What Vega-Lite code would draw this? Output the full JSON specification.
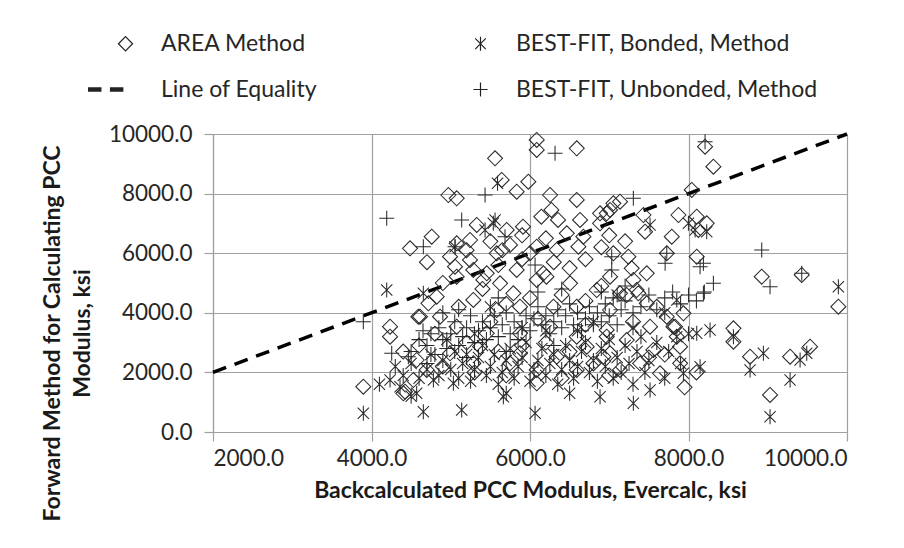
{
  "$schema": "https://vega.github.io/schema/vega-lite/v6.json",
  "autosize": {"type": "none"},
  "width": 634,
  "height": 298,
  "padding": {"left": 213, "top": 134, "right": 57, "bottom": 116},
  "background": "white",
  "config": {
    "font": "Lato",
    "view": {"stroke": null},
    "axis": {
      "gridColor": "#a0a0a0", "gridWidth": 1.2, "domainColor": "#a0a0a0", "domainWidth": 1.2,
      "tickColor": "#a0a0a0", "tickWidth": 1.2, "tickSize": 9,
      "labelFontSize": 22.5, "labelColor": "#262626", "labelFont": "Lato",
      "titleFontSize": 23, "titleFontWeight": "bold", "titleColor": "#1a1a1a", "titleFont": "Lato"
    },
    "legend": {
      "symbolSize": 200, "symbolStrokeColor": "#222", "symbolStrokeWidth": 1.2, "symbolFillColor": "transparent",
      "labelFontSize": 23, "labelColor": "#262626", "labelOffset": 24, "labelLimit": 400,
      "rowPadding": 22, "columnPadding": 152, "padding": 0
    }
  },
  "datasets": {
    "pts": [
      {"m":"a","x":6085,"y":9800},{"m":"a","x":6085,"y":9464},{"m":"a","x":6590,"y":9520},{"m":"a","x":5559,"y":9185},{"m":"a","x":5643,"y":8457},{"m":"a","x":5979,"y":8400},{"m":"a","x":5832,"y":8064},{"m":"a","x":4970,"y":7953},{"m":"a","x":5075,"y":7841},{"m":"a","x":6253,"y":7953},{"m":"a","x":6590,"y":7786},{"m":"a","x":4486,"y":6163},{"m":"a","x":4760,"y":6555},{"m":"a","x":4991,"y":5884},{"m":"a","x":5328,"y":6947},{"m":"a","x":5243,"y":6443},{"m":"a","x":5912,"y":6891},{"m":"a","x":6143,"y":7226},{"m":"a","x":6270,"y":7450},{"m":"a","x":6354,"y":7115},{"m":"a","x":6632,"y":7115},{"m":"a","x":6464,"y":6667},{"m":"a","x":6674,"y":6555},{"m":"a","x":6884,"y":7339},{"m":"a","x":7010,"y":7450},{"m":"a","x":7052,"y":7675},{"m":"a","x":6884,"y":7004},{"m":"a","x":6611,"y":6219},{"m":"a","x":6337,"y":6108},{"m":"a","x":6085,"y":6219},{"m":"a","x":5748,"y":6276},{"m":"a","x":5580,"y":5997},{"m":"a","x":5243,"y":5772},{"m":"a","x":5054,"y":5548},{"m":"a","x":5285,"y":5437},{"m":"a","x":5454,"y":5325},{"m":"a","x":5832,"y":5437},{"m":"a","x":6169,"y":5325},{"m":"a","x":5706,"y":6779},{"m":"a","x":5075,"y":6332},
      {"m":"a","x":8209,"y":9575},{"m":"a","x":8314,"y":8904},{"m":"a","x":8041,"y":8121},{"m":"a","x":7136,"y":7730},{"m":"a","x":6968,"y":7339},{"m":"a","x":7431,"y":7282},{"m":"a","x":7452,"y":6722},{"m":"a","x":7873,"y":7282},{"m":"a","x":7789,"y":6555},{"m":"a","x":8104,"y":7226},{"m":"a","x":8230,"y":7004},{"m":"a","x":8125,"y":6779},{"m":"a","x":7726,"y":5997},{"m":"a","x":8104,"y":5884},{"m":"a","x":7052,"y":5997},{"m":"a","x":7241,"y":5884},{"m":"a","x":7283,"y":5493},{"m":"a","x":7473,"y":5325},{"m":"a","x":8924,"y":5213},{"m":"a","x":9429,"y":5269},{"m":"a","x":9891,"y":4205},
      {"m":"a","x":6842,"y":4765},{"m":"a","x":7220,"y":4598},{"m":"a","x":7367,"y":4654},{"m":"a","x":8567,"y":3480},{"m":"a","x":8567,"y":3030},{"m":"a","x":8777,"y":2527},{"m":"a","x":9282,"y":2527},{"m":"a","x":9534,"y":2863},{"m":"a","x":9029,"y":1242},{"m":"a","x":7346,"y":4765},{"m":"a","x":7136,"y":4654},{"m":"a","x":7473,"y":4319},{"m":"a","x":7726,"y":3870},{"m":"a","x":7810,"y":3534},{"m":"a","x":7557,"y":2752},{"m":"a","x":7389,"y":2305},{"m":"a","x":7136,"y":2081},{"m":"a","x":7641,"y":1970},{"m":"a","x":7894,"y":2305},{"m":"a","x":7852,"y":3198},{"m":"a","x":6968,"y":3423},{"m":"a","x":7220,"y":3087},{"m":"a","x":7010,"y":2641},{"m":"a","x":7304,"y":5101},{"m":"a","x":7010,"y":5213},{"m":"a","x":7515,"y":3534},{"m":"a","x":7936,"y":3982},
      {"m":"a","x":4234,"y":3534},{"m":"a","x":4234,"y":3198},{"m":"a","x":4402,"y":1299},{"m":"a","x":4591,"y":3870},{"m":"a","x":4718,"y":4319},{"m":"a","x":4823,"y":4541},{"m":"a","x":5075,"y":5213},{"m":"a","x":5412,"y":5101},{"m":"a","x":5622,"y":4990},{"m":"a","x":5790,"y":4654},{"m":"a","x":6208,"y":5213},{"m":"a","x":6085,"y":5101},{"m":"a","x":6505,"y":4990},{"m":"a","x":4570,"y":2416},{"m":"a","x":4528,"y":1745},{"m":"a","x":4697,"y":2081},{"m":"a","x":4991,"y":2641},{"m":"a","x":5370,"y":2863},{"m":"a","x":5285,"y":2305},{"m":"a","x":5748,"y":2305},{"m":"a","x":5874,"y":2641},{"m":"a","x":6085,"y":2081},{"m":"a","x":6337,"y":2527},{"m":"a","x":6590,"y":2081},{"m":"a","x":6716,"y":2863},{"m":"a","x":6926,"y":2527},{"m":"a","x":6968,"y":3198},{"m":"a","x":6590,"y":3198},{"m":"a","x":6253,"y":3534},{"m":"a","x":5874,"y":3312},{"m":"a","x":5454,"y":3312},{"m":"a","x":5075,"y":3534},{"m":"a","x":4865,"y":3870},{"m":"a","x":7010,"y":4094},{"m":"a","x":6590,"y":4205},{"m":"a","x":6296,"y":4205},{"m":"a","x":5874,"y":4205},{"m":"a","x":5285,"y":4430},{"m":"a","x":5580,"y":4094},
      {"m":"a","x":3897,"y":1520},{"m":"a","x":4423,"y":1353},{"m":"a","x":4612,"y":3870},{"m":"a","x":6085,"y":1633},{"m":"a","x":7831,"y":3534},{"m":"a","x":7894,"y":2863},
      {"m":"a","x":5200,"y":6100},{"m":"a","x":5500,"y":6400},{"m":"a","x":5650,"y":6100},{"m":"a","x":5900,"y":5800},{"m":"a","x":6000,"y":6000},{"m":"a","x":6300,"y":5700},{"m":"a","x":6500,"y":5500},{"m":"a","x":6700,"y":5800},{"m":"a","x":6900,"y":6200},{"m":"a","x":7200,"y":6400},{"m":"a","x":7000,"y":6600},{"m":"a","x":6200,"y":6500},{"m":"a","x":5900,"y":6600},{"m":"a","x":5600,"y":5600},{"m":"a","x":5400,"y":4800},{"m":"a","x":5700,"y":4300},{"m":"a","x":6000,"y":4500},{"m":"a","x":6400,"y":4600},{"m":"a","x":6700,"y":4400},{"m":"a","x":6900,"y":4900},{"m":"a","x":4700,"y":5700},{"m":"a","x":4900,"y":5000},{"m":"a","x":5100,"y":4200},{"m":"a","x":4800,"y":3300},{"m":"a","x":5200,"y":3000},{"m":"a","x":5600,"y":2700},{"m":"a","x":5900,"y":2900},{"m":"a","x":6200,"y":3000},{"m":"a","x":6500,"y":2700},{"m":"a","x":6800,"y":2300},{"m":"a","x":7000,"y":1900},{"m":"a","x":6400,"y":1800},{"m":"a","x":5700,"y":1900},{"m":"a","x":5300,"y":2000},{"m":"a","x":4900,"y":2200},{"m":"a","x":4600,"y":2900},{"m":"a","x":4400,"y":2700},{"m":"a","x":5500,"y":3700},{"m":"a","x":6100,"y":3800},{"m":"a","x":6700,"y":3600},{"m":"a","x":7300,"y":3700},{"m":"a","x":7600,"y":4200},{"m":"a","x":7500,"y":2500},{"m":"a","x":7700,"y":2600},{"m":"a","x":8100,"y":2000},{"m":"a","x":7950,"y":1500},
      {"m":"b","x":3897,"y":627},{"m":"b","x":4234,"y":1745},{"m":"b","x":4360,"y":1520},{"m":"b","x":4654,"y":683},{"m":"b","x":5138,"y":738},{"m":"b","x":5664,"y":1185},{"m":"b","x":6064,"y":627},{"m":"b","x":4570,"y":1299},{"m":"b","x":4781,"y":1745},{"m":"b","x":5033,"y":1633},{"m":"b","x":4192,"y":4765},{"m":"b","x":4654,"y":4654},{"m":"b","x":5054,"y":6219},{"m":"b","x":5537,"y":7004},{"m":"b","x":5590,"y":8350},{"m":"b","x":5559,"y":7115},{"m":"b","x":5433,"y":6779},{"m":"b","x":7515,"y":6947},{"m":"b","x":7999,"y":7004},{"m":"b","x":8230,"y":6722},{"m":"b","x":8083,"y":6779},{"m":"b","x":9891,"y":4877},{"m":"b","x":8104,"y":3312},{"m":"b","x":8272,"y":3423},{"m":"b","x":8567,"y":3198},{"m":"b","x":8945,"y":2641},{"m":"b","x":8777,"y":2081},{"m":"b","x":9492,"y":2641},{"m":"b","x":9282,"y":1745},{"m":"b","x":9408,"y":2416},{"m":"b","x":9029,"y":514},{"m":"b","x":8146,"y":2191},{"m":"b","x":7304,"y":963},{"m":"b","x":7515,"y":1409},{"m":"b","x":7852,"y":3198},{"m":"b","x":7852,"y":4430},{"m":"b","x":7936,"y":1970},{"m":"b","x":6884,"y":1185},
      {"m":"b","x":4400,"y":1900},{"m":"b","x":4500,"y":2300},{"m":"b","x":4600,"y":1800},{"m":"b","x":4700,"y":2100},{"m":"b","x":4750,"y":2600},{"m":"b","x":4850,"y":1900},{"m":"b","x":4900,"y":2400},{"m":"b","x":5000,"y":2100},{"m":"b","x":5050,"y":2700},{"m":"b","x":5100,"y":1800},{"m":"b","x":5150,"y":2300},{"m":"b","x":5200,"y":2600},{"m":"b","x":5250,"y":1700},{"m":"b","x":5300,"y":2100},{"m":"b","x":5350,"y":2500},{"m":"b","x":5400,"y":2900},{"m":"b","x":5450,"y":1900},{"m":"b","x":5500,"y":2200},{"m":"b","x":5550,"y":2600},{"m":"b","x":5600,"y":1600},{"m":"b","x":5650,"y":2000},{"m":"b","x":5700,"y":2400},{"m":"b","x":5750,"y":2800},{"m":"b","x":5800,"y":1800},{"m":"b","x":5850,"y":2200},{"m":"b","x":5900,"y":2500},{"m":"b","x":5950,"y":3000},{"m":"b","x":6000,"y":1700},{"m":"b","x":6050,"y":2100},{"m":"b","x":6100,"y":2400},{"m":"b","x":6150,"y":2800},{"m":"b","x":6200,"y":1900},{"m":"b","x":6250,"y":2300},{"m":"b","x":6300,"y":2600},{"m":"b","x":6350,"y":1600},{"m":"b","x":6400,"y":2100},{"m":"b","x":6450,"y":2900},{"m":"b","x":6500,"y":2400},{"m":"b","x":6550,"y":1800},{"m":"b","x":6600,"y":2200},{"m":"b","x":6650,"y":2700},{"m":"b","x":6700,"y":3000},{"m":"b","x":6750,"y":2000},{"m":"b","x":6800,"y":2400},{"m":"b","x":6850,"y":1700},{"m":"b","x":6900,"y":2800},{"m":"b","x":6950,"y":2200},{"m":"b","x":7000,"y":3100},{"m":"b","x":7050,"y":1800},{"m":"b","x":7100,"y":2500},{"m":"b","x":7150,"y":2000},{"m":"b","x":7200,"y":2900},{"m":"b","x":7250,"y":2300},{"m":"b","x":7300,"y":1600},{"m":"b","x":7350,"y":2700},{"m":"b","x":7400,"y":3200},{"m":"b","x":7450,"y":2000},{"m":"b","x":7500,"y":2400},{"m":"b","x":7600,"y":3000},{"m":"b","x":7700,"y":1800},{"m":"b","x":7750,"y":2700},{"m":"b","x":7900,"y":2300},{"m":"b","x":8000,"y":3300},{"m":"b","x":6800,"y":3700},{"m":"b","x":7700,"y":4000},{"m":"b","x":6200,"y":3400},{"m":"b","x":5900,"y":3500},{"m":"b","x":5300,"y":3300},{"m":"b","x":4950,"y":3100},{"m":"b","x":5500,"y":4200},{"m":"b","x":6600,"y":3400},{"m":"b","x":7300,"y":3500},{"m":"b","x":7100,"y":4600},{"m":"b","x":6500,"y":1300},{"m":"b","x":5700,"y":1300},{"m":"b","x":4300,"y":2200},{"m":"b","x":4100,"y":1600},{"m":"b","x":4500,"y":1200},
      {"m":"d","x":4192,"y":7170},{"m":"d","x":6316,"y":9352},{"m":"d","x":5433,"y":7953},{"m":"d","x":4654,"y":6219},{"m":"d","x":5054,"y":6219},{"m":"d","x":5138,"y":7115},{"m":"d","x":5685,"y":6555},{"m":"d","x":6064,"y":5605},{"m":"d","x":7031,"y":5884},{"m":"d","x":7031,"y":5437},{"m":"d","x":8209,"y":9743},{"m":"d","x":7304,"y":7841},{"m":"d","x":8924,"y":6108},{"m":"d","x":7726,"y":5997},{"m":"d","x":7705,"y":5661},{"m":"d","x":8146,"y":5548},{"m":"d","x":9429,"y":5325},{"m":"d","x":9029,"y":4877},{"m":"d","x":8314,"y":4990},{"m":"d","x":8188,"y":4654},{"m":"d","x":8188,"y":5661},{"m":"d","x":3897,"y":3702},{"m":"d","x":4255,"y":2641},{"m":"d","x":4465,"y":2527},
      {"m":"d","x":4500,"y":2700},{"m":"d","x":4600,"y":3100},{"m":"d","x":4650,"y":3400},{"m":"d","x":4700,"y":2900},{"m":"d","x":4750,"y":3300},{"m":"d","x":4800,"y":2600},{"m":"d","x":4850,"y":3500},{"m":"d","x":4900,"y":3100},{"m":"d","x":4950,"y":2800},{"m":"d","x":5000,"y":3300},{"m":"d","x":5050,"y":3700},{"m":"d","x":5100,"y":2900},{"m":"d","x":5150,"y":3200},{"m":"d","x":5200,"y":3500},{"m":"d","x":5250,"y":3900},{"m":"d","x":5300,"y":3000},{"m":"d","x":5350,"y":3400},{"m":"d","x":5400,"y":3700},{"m":"d","x":5450,"y":3100},{"m":"d","x":5500,"y":3500},{"m":"d","x":5550,"y":3900},{"m":"d","x":5600,"y":3200},{"m":"d","x":5650,"y":3600},{"m":"d","x":5700,"y":4000},{"m":"d","x":5750,"y":3300},{"m":"d","x":5800,"y":3700},{"m":"d","x":5850,"y":3100},{"m":"d","x":5900,"y":3500},{"m":"d","x":5950,"y":3900},{"m":"d","x":6000,"y":3400},{"m":"d","x":6050,"y":3800},{"m":"d","x":6100,"y":4200},{"m":"d","x":6150,"y":3600},{"m":"d","x":6200,"y":3900},{"m":"d","x":6250,"y":3300},{"m":"d","x":6300,"y":3700},{"m":"d","x":6350,"y":4100},{"m":"d","x":6400,"y":3500},{"m":"d","x":6450,"y":3900},{"m":"d","x":6500,"y":4300},{"m":"d","x":6550,"y":3600},{"m":"d","x":6600,"y":4000},{"m":"d","x":6650,"y":3400},{"m":"d","x":6700,"y":3800},{"m":"d","x":6750,"y":4200},{"m":"d","x":6800,"y":3600},{"m":"d","x":6850,"y":4000},{"m":"d","x":6900,"y":3700},{"m":"d","x":6950,"y":4300},{"m":"d","x":7000,"y":3900},{"m":"d","x":7050,"y":4500},{"m":"d","x":7100,"y":3600},{"m":"d","x":7150,"y":4100},{"m":"d","x":7200,"y":4400},{"m":"d","x":7300,"y":4000},{"m":"d","x":7400,"y":4200},{"m":"d","x":7500,"y":4600},{"m":"d","x":7600,"y":4100},{"m":"d","x":7700,"y":4500},{"m":"d","x":7800,"y":4700},{"m":"d","x":7900,"y":4300},{"m":"d","x":8000,"y":4600},{"m":"d","x":8100,"y":4400},{"m":"d","x":8200,"y":4700},{"m":"d","x":5100,"y":4100},{"m":"d","x":4900,"y":4000},{"m":"d","x":5600,"y":4500},{"m":"d","x":6100,"y":4700},{"m":"d","x":6400,"y":4800},{"m":"d","x":6900,"y":4700},{"m":"d","x":7200,"y":4900},{"m":"d","x":5200,"y":2500},{"m":"d","x":5700,"y":2700},{"m":"d","x":6300,"y":2900},{"m":"d","x":4700,"y":2300}
    ],
    "eq": [{"x": 2000, "y": 2000}, {"x": 10000, "y": 10000}]
  },
  "encoding": {
    "x": {"field": "x", "type": "quantitative",
      "scale": {"domain": [2000, 10000], "nice": false, "zero": false},
      "axis": {"values": [2000, 4000, 6000, 8000, 10000], "format": ".1f", "title": "Backcalculated PCC Modulus, Evercalc, ksi", "labelPadding": 6, "titlePadding": 10}},
    "y": {"field": "y", "type": "quantitative",
      "scale": {"domain": [0, 10000], "nice": false},
      "axis": {"values": [0, 2000, 4000, 6000, 8000, 10000], "format": ".1f", "title": ["Forward Method for Calculating PCC", "Modulus, ksi"], "labelPadding": 12, "titlePadding": 14, "titleLineHeight": 30, "titleY": 199}}
  },
  "layer": [
    {
      "data": {"name": "eq"},
      "mark": {"type": "line", "color": "black", "strokeWidth": 3.5, "strokeDash": [14, 9]},
      "encoding": {}
    },
    {
      "data": {"name": "pts"},
      "mark": {"type": "point", "size": 225, "color": "#2a2a2a", "stroke": "#2a2a2a", "filled": false, "strokeWidth": 1.05, "opacity": 1},
      "encoding": {
        "shape": {"field": "m", "type": "nominal",
          "scale": {"domain": ["a", "c", "b", "d"],
            "range": ["diamond", "M-5.3,-0.25L-3.4,-0.25M-5.3,-0.08L-3.4,-0.08M-5.3,0.08L-3.4,0.08M-5.3,0.25L-3.4,0.25M-2.2,-0.25L-0.3,-0.25M-2.2,-0.08L-0.3,-0.08M-2.2,0.08L-0.3,0.08M-2.2,0.25L-0.3,0.25", "M0,-1L0,1M-0.75,-0.75L0.75,0.75M-0.75,0.75L0.75,-0.75", "M-1,0L1,0M0,-1L0,1"]},
          "legend": {"orient": "none", "legendX": -99, "legendY": -102, "columns": 2, "title": null,
            "labelExpr": "datum.label == 'a' ? 'AREA Method' : datum.label == 'b' ? 'BEST-FIT, Bonded, Method' : datum.label == 'c' ? 'Line of Equality' : 'BEST-FIT, Unbonded, Method'"}}
      }
    }
  ]
}
